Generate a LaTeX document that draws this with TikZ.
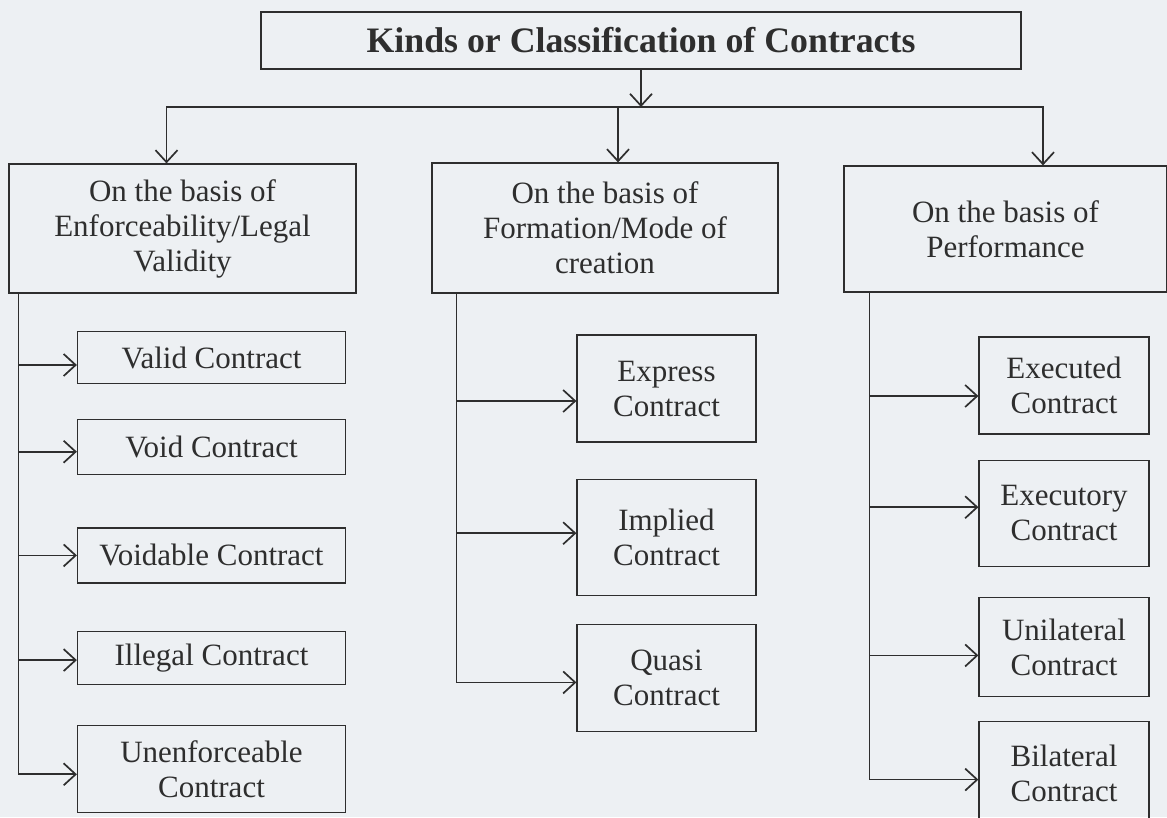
\documentclass[tikz,border=0pt]{standalone}
\usepackage{fontspec}
\setmainfont{Liberation Serif}
\usepackage{tikz}
\usetikzlibrary{positioning,arrows.meta,calc}
\usepackage{xcolor}
\definecolor{scanbg}{HTML}{EDF0F3}
\definecolor{inkgray}{HTML}{2E2E2E}
\newcommand{\boxfont}{\fontsize{31}{35}\selectfont}
\newcommand{\headfont}{\fontsize{35.8}{40}\selectfont\bfseries}
\tikzset{
  titlebox/.style={
    draw=inkgray, line width=1.2pt, inner sep=0pt,
    font=\headfont, text=inkgray
  },
  basisbox/.style={
    draw=inkgray, line width=1.2pt, inner sep=0pt,
    align=center, font=\boxfont, text=inkgray
  },
  kindbox/.style={
    draw=inkgray, line width=1.2pt, inner sep=0pt,
    align=center, font=\boxfont, text=inkgray
  },
  arr/.style={
    -{Straight Barb[length=12pt,width=22pt]}, line width=1.7pt, inkgray
  }
}

\begin{document}
\begin{tikzpicture}[x=1pt,y=-1pt]
\fill[scanbg] (0,0) rectangle (1167,817);
\useasboundingbox (0,0) rectangle (1167,817);

% nodos
\node[titlebox, minimum width=760pt, minimum height=57pt] (kinds) at (641,40.5)
  {Kinds or Classification of Contracts};

\node[basisbox, minimum width=347pt, minimum height=129pt] (enf) at (182.5,228.5)
  {On the basis of\\Enforceability/Legal\\Validity};
\node[basisbox, minimum width=346pt, minimum height=130pt] (form) at (605,228)
  {On the basis of\\Formation/Mode of\\creation};
\node[basisbox, minimum width=323pt, minimum height=126pt] (perf) at (1005.5,229)
  {On the basis of\\Performance};

\node[kindbox, minimum width=268pt, minimum height=52pt] (valid) at (211.5,357.5) {Valid Contract};
\node[kindbox, minimum width=268pt, minimum height=55pt, below=35pt of valid] (void) {Void Contract};
\node[kindbox, minimum width=268pt, minimum height=55pt, below=52pt of void] (voidable) {Voidable Contract};
\node[kindbox, minimum width=268pt, minimum height=53pt, below=47pt of voidable] (illegal) {Illegal Contract};
\node[kindbox, minimum width=268pt, minimum height=87pt, below=40pt of illegal] (unenf) {Unenforceable\\Contract};

\node[kindbox, minimum width=179pt, minimum height=107pt] (express) at (666.5,388.5) {Express\\Contract};
\node[kindbox, minimum width=179pt, minimum height=116pt, below=36pt of express] (implied) {Implied\\Contract};
\node[kindbox, minimum width=179pt, minimum height=107pt, below=28pt of implied] (quasi) {Quasi\\Contract};

\node[kindbox, minimum width=170pt, minimum height=97pt] (executed) at (1064,385.5) {Executed\\Contract};
\node[kindbox, minimum width=170pt, minimum height=106pt, below=25pt of executed] (executory) {Executory\\Contract};
\node[kindbox, minimum width=170pt, minimum height=99pt, below=30pt of executory] (unilateral) {Unilateral\\Contract};
\node[kindbox, minimum width=170pt, minimum height=104pt, below=24pt of unilateral] (bilateral) {Bilateral\\Contract};

% puntos de union
\coordinate (hub) at (641,107);
\coordinate (t1) at ([xshift=10pt]enf.south west);
\coordinate (t2) at ([xshift=25pt]form.south west);
\coordinate (t3) at ([xshift=26pt]perf.south west);

\coordinate (valid-in) at ([yshift=-7.5pt]valid.west);
\coordinate (void-in) at ([yshift=-4.5pt]void.west);
\coordinate (voidable-in) at (voidable.west);
\coordinate (illegal-in) at ([yshift=-2.5pt]illegal.west);
\coordinate (unenf-in) at ([yshift=-5.5pt]unenf.west);
\coordinate (express-in) at ([yshift=-12.5pt]express.west);
\coordinate (implied-in) at ([yshift=4pt]implied.west);
\coordinate (quasi-in) at ([yshift=-4.5pt]quasi.west);
\coordinate (executed-in) at ([yshift=-10.5pt]executed.west);
\coordinate (executory-in) at ([yshift=6pt]executory.west);
\coordinate (unilateral-in) at ([yshift=-8.5pt]unilateral.west);
\coordinate (bilateral-in) at ([yshift=-6pt]bilateral.west);

% flechas de arriba
\draw[arr] (kinds) -- (hub);
\draw[arr] (hub) -| ([xshift=-16pt]enf.north);
\draw[arr] (hub) -| ([xshift=37.5pt]perf.north);
\draw[arr] ([xshift=13pt]form.north |- hub) -- ([xshift=13pt]form.north);

% validez
\draw[arr] (t1) |- (unenf-in);
\draw[arr] (t1 |- valid-in) -- (valid-in);
\draw[arr] (t1 |- void-in) -- (void-in);
\draw[arr] (t1 |- voidable-in) -- (voidable-in);
\draw[arr] (t1 |- illegal-in) -- (illegal-in);

% formacion
\draw[arr] (t2) |- (quasi-in);
\draw[arr] (t2 |- express-in) -- (express-in);
\draw[arr] (t2 |- implied-in) -- (implied-in);

% cumplimiento
\draw[arr] (t3) |- (bilateral-in);
\draw[arr] (t3 |- executed-in) -- (executed-in);
\draw[arr] (t3 |- executory-in) -- (executory-in);
\draw[arr] (t3 |- unilateral-in) -- (unilateral-in);
\end{tikzpicture}
\end{document}
